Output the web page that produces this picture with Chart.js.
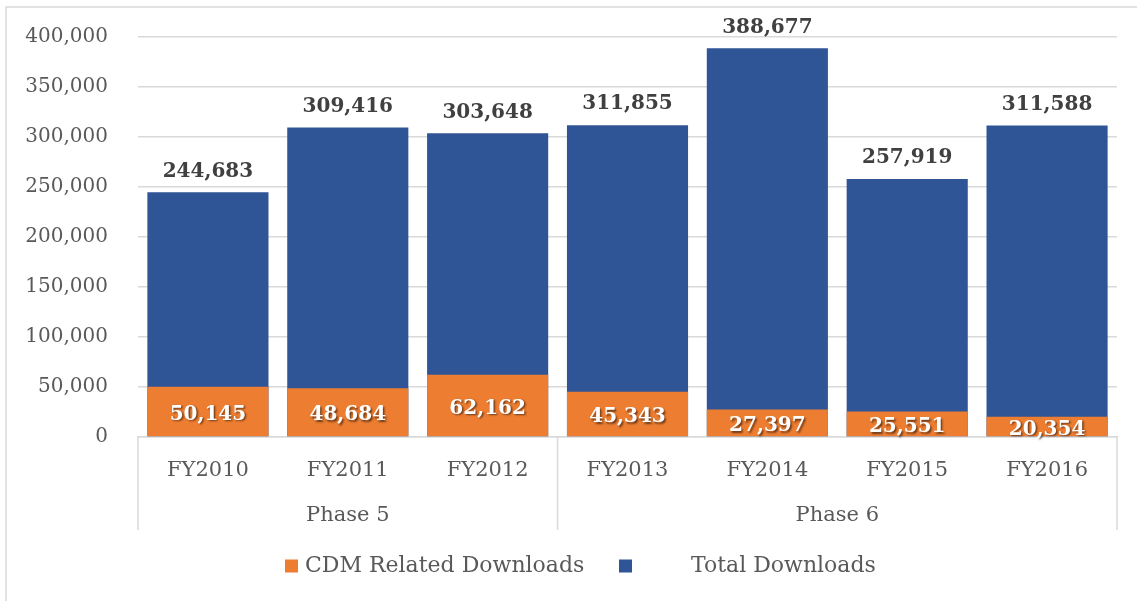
<!DOCTYPE html>
<html>
<head>
<meta charset="utf-8">
<script src="https://cdn.jsdelivr.net/npm/chart.js@4.4.1/dist/chart.umd.min.js"></script>
<style>
html,body{margin:0;padding:0;background:#fff;}
#wrap{position:relative;width:1137px;height:601px;}
canvas{display:block;}
</style>
</head>
<body>
<div id="wrap"><canvas id="c" width="1137" height="601"></canvas></div>
<script>
const categories = ['FY2010','FY2011','FY2012','FY2013','FY2014','FY2015','FY2016'];
const phases = ['Phase 5','Phase 6'];
const phaseSpans = [3, 4];
const cdmDownloads = [50145, 48684, 62162, 45343, 27397, 25551, 20354];
const totalDownloads = [244683, 309416, 303648, 311855, 388677, 257919, 311588];
const yTicks = [0, 50000, 100000, 150000, 200000, 250000, 300000, 350000, 400000];
const seriesNames = ['CDM Related Downloads', 'Total Downloads'];

const FONT = '"DejaVu Serif", "Liberation Serif", serif';
const ORANGE = '#ED7D31';
const BLUE = '#2F5597';
const GRID = '#D9D9D9';
const fmt = v => v.toLocaleString('en-US');

const decor = {
  id: 'decor',
  beforeDraw(chart) {
    const ctx = chart.ctx;
    ctx.save();
    ctx.fillStyle = '#fff';
    ctx.fillRect(0, 0, chart.width, chart.height);
    ctx.strokeStyle = GRID;
    ctx.lineWidth = 1.5;
    ctx.beginPath();
    ctx.moveTo(6, chart.height);
    ctx.lineTo(6, 7);
    ctx.lineTo(chart.width, 7);
    ctx.stroke();
    ctx.restore();
  },
  afterDatasetsDraw(chart) {
    const ctx = chart.ctx;
    const area = chart.chartArea;
    const x = chart.scales.x;
    const cdmMeta = chart.getDatasetMeta(0);
    const totMeta = chart.getDatasetMeta(1);
    ctx.save();
    ctx.textAlign = 'center';
    ctx.textBaseline = 'middle';
    ctx.font = 'bold 20px ' + FONT;
    ctx.fillStyle = '#404040';
    totMeta.data.forEach((bar, i) => {
      ctx.fillText(fmt(totalDownloads[i]), bar.x, bar.y - 21);
    });
    ctx.shadowColor = 'rgba(0,0,0,0.55)';
    ctx.shadowOffsetX = 1.5;
    ctx.shadowOffsetY = 1.5;
    ctx.shadowBlur = 2;
    ctx.fillStyle = '#ffffff';
    cdmMeta.data.forEach((bar, i) => {
      ctx.fillText(fmt(cdmDownloads[i]), bar.x, (bar.y + bar.base) / 2 + 3);
    });
    ctx.restore();

    ctx.save();
    ctx.strokeStyle = GRID;
    ctx.lineWidth = 1.5;
    const yTop = area.bottom;
    const yBot = area.bottom + 93;
    let start = 0;
    const half = (x.getPixelForValue(1) - x.getPixelForValue(0)) / 2;
    const bounds = [area.left];
    phaseSpans.forEach(n => {
      start += n;
      bounds.push(start >= categories.length ? area.right : x.getPixelForValue(start) - half);
    });
    bounds.forEach(b => {
      ctx.beginPath();
      ctx.moveTo(b, yTop);
      ctx.lineTo(b, yBot);
      ctx.stroke();
    });
    ctx.fillStyle = '#595959';
    ctx.font = '21px ' + FONT;
    ctx.textAlign = 'center';
    ctx.textBaseline = 'middle';
    phases.forEach((p, i) => {
      ctx.fillText(p, (bounds[i] + bounds[i + 1]) / 2, area.bottom + 79);
    });

    const ly = 566;
    ctx.textAlign = 'left';
    ctx.font = '22px ' + FONT;
    ctx.fillStyle = ORANGE;
    ctx.fillRect(285, ly - 6.5, 13, 13);
    ctx.fillStyle = '#595959';
    ctx.fillText(seriesNames[0], 305, ly);
    ctx.fillStyle = BLUE;
    ctx.fillRect(619, ly - 6.5, 13, 13);
    ctx.fillStyle = '#595959';
    ctx.fillText(seriesNames[1], 691, ly);
    ctx.restore();
  }
};

new Chart(document.getElementById('c'), {
  type: 'bar',
  data: {
    labels: categories,
    datasets: [
      { label: seriesNames[0], data: cdmDownloads, backgroundColor: ORANGE, order: 0 },
      { label: seriesNames[1], data: totalDownloads, backgroundColor: BLUE, order: 1 }
    ]
  },
  options: {
    responsive: false,
    animation: false,
    devicePixelRatio: 1,
    layout: { padding: { left: 0, right: 20, top: 37, bottom: 71 } },
    datasets: { bar: { grouped: false, categoryPercentage: 1, barPercentage: 0.866 } },
    plugins: { legend: { display: false }, tooltip: { enabled: false } },
    scales: {
      x: {
        grid: { display: false },
        border: { display: true, color: GRID, width: 1.5 },
        ticks: { color: '#595959', font: { family: FONT, size: 21 }, padding: 13 },
        afterFit(s) { s.height = 93; }
      },
      y: {
        min: 0, max: 400000,
        afterBuildTicks(s) { s.ticks = yTicks.map(v => ({ value: v })); },
        grid: { color: GRID, lineWidth: 1.5, drawTicks: false },
        border: { display: false },
        ticks: { color: '#595959', font: { family: FONT, size: 20 }, padding: 30, callback: v => fmt(v) },
        afterFit(s) { s.width = 138; s.paddingTop = 12; s.paddingBottom = 12; }
      }
    }
  },
  plugins: [decor]
});
</script>
</body>
</html>
